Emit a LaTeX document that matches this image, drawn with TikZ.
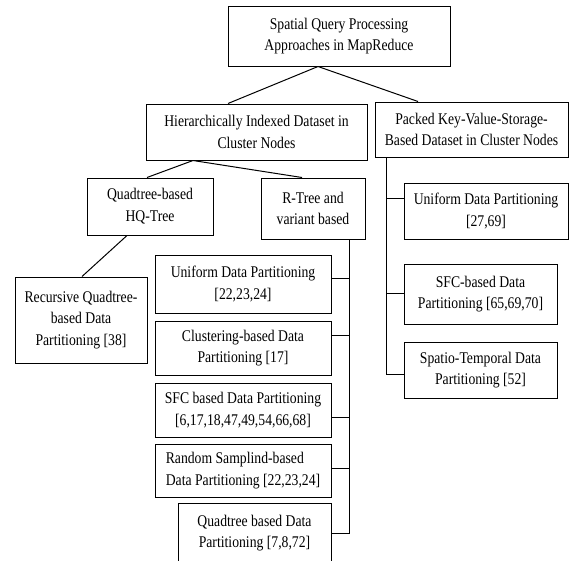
\documentclass[tikz,border=0pt]{standalone}
\usepackage{fontspec}
\setmainfont[FakeStretch=0.84]{Liberation Serif}
\usetikzlibrary{calc}
\begin{document}
\begin{tikzpicture}[x=1pt,y=-1pt,
  box/.style={draw, line width=1pt, inner sep=0pt, align=center,
    font=\fontsize{16.3}{21.8}\selectfont},
  conn/.style={line width=1pt}]
\useasboundingbox (0,0) rectangle (570,560);
% top levels
\node[box, minimum width=222pt, minimum height=60pt] (top) at (339,36) {Spatial Query Processing\\Approaches in MapReduce};
\node[box, minimum width=221pt, minimum height=56pt] (hier) at (256.5,132) {Hierarchically Indexed Dataset in\\Cluster Nodes};
\node[box, minimum width=193pt, minimum height=55pt] (packed) at (471.5,129.5) {Packed Key-Value-Storage-\\Based Dataset in Cluster Nodes};
\node[box, minimum width=126pt, minimum height=57pt] (quad) at (150,206.5) {Quadtree-based\\HQ-Tree};
\node[box, minimum width=104pt, minimum height=61pt] (rtree) at (313,208.5) {R-Tree and\\variant based};
\node[box, minimum width=132pt, minimum height=86pt] (rec) at (81,320) {Recursive Quadtree-\\based Data\\Partitioning [38]};
% left column
\node[box, minimum width=176pt, minimum height=58pt] (uniL) at (243,284) {Uniform Data Partitioning\\{}[22,23,24]};
\node[box, minimum width=176pt, minimum height=54pt] (clus) at (243,348) {Clustering-based Data\\Partitioning [17]};
\node[box, minimum width=176pt, minimum height=54pt] (sfcL) at (243,410) {SFC based Data Partitioning\\{}[6,17,18,47,49,54,66,68]};
\node[box, minimum width=176pt, minimum height=53pt, align=left] (rand) at (243,470.5) {Random Samplind-based\\Data Partitioning [22,23,24]};
\node[box, minimum width=153pt, minimum height=60pt] (quadL) at (254.5,533) {Quadtree based Data\\Partitioning [7,8,72]};
% right column
\node[box, minimum width=164pt, minimum height=56pt] (uniR) at (486,211) {Uniform Data Partitioning\\{}[27,69]};
\node[box, minimum width=153pt, minimum height=60pt] (sfcR) at (480.5,294) {SFC-based Data\\Partitioning [65,69,70]};
\node[box, minimum width=153pt, minimum height=56pt] (spat) at (480.5,370) {Spatio-Temporal Data\\Partitioning [52]};
% tree connectors
\draw[conn] ([xshift=-21pt]top.south) -- ([xshift=-28.5pt]hier.north);
\draw[conn] ([xshift=-21pt]top.south) -- ([xshift=-53.5pt]packed.north);
\draw[conn] ([xshift=-63.5pt]hier.south) -- ([xshift=-3pt]quad.north);
\draw[conn] ([xshift=-63.5pt]hier.south) -- ([xshift=-11pt]rtree.north);
\draw[conn] ([xshift=-23pt]quad.south) -- ([xshift=1pt]rec.north);
% left trunk
\coordinate (lt) at ([xshift=36pt]rtree.south);
\coordinate (a1) at ([yshift=6pt]uniL.east);
\coordinate (a2) at ([yshift=13pt]clus.east);
\coordinate (a3) at ([yshift=-7pt]sfcL.east);
\coordinate (a4) at ([yshift=2.5pt]rand.east);
\coordinate (a5) at (quadL.east);
\draw[conn] (lt) -- (lt |- a5) -- (a5);
\foreach \p in {a1,a2,a3,a4} \draw[conn] (\p) -- (\p -| lt);
% right trunk
\coordinate (rt) at ([xshift=-85.5pt]packed.south);
\coordinate (b1) at ([yshift=13pt]uniR.west);
\coordinate (b2) at ([yshift=1pt]sfcR.west);
\coordinate (b3) at ([yshift=-4pt]spat.west);
\draw[conn] (rt) -- (rt |- b3) -- (b3);
\foreach \p in {b1,b2} \draw[conn] (\p) -- (\p -| rt);
\end{tikzpicture}
\end{document}
